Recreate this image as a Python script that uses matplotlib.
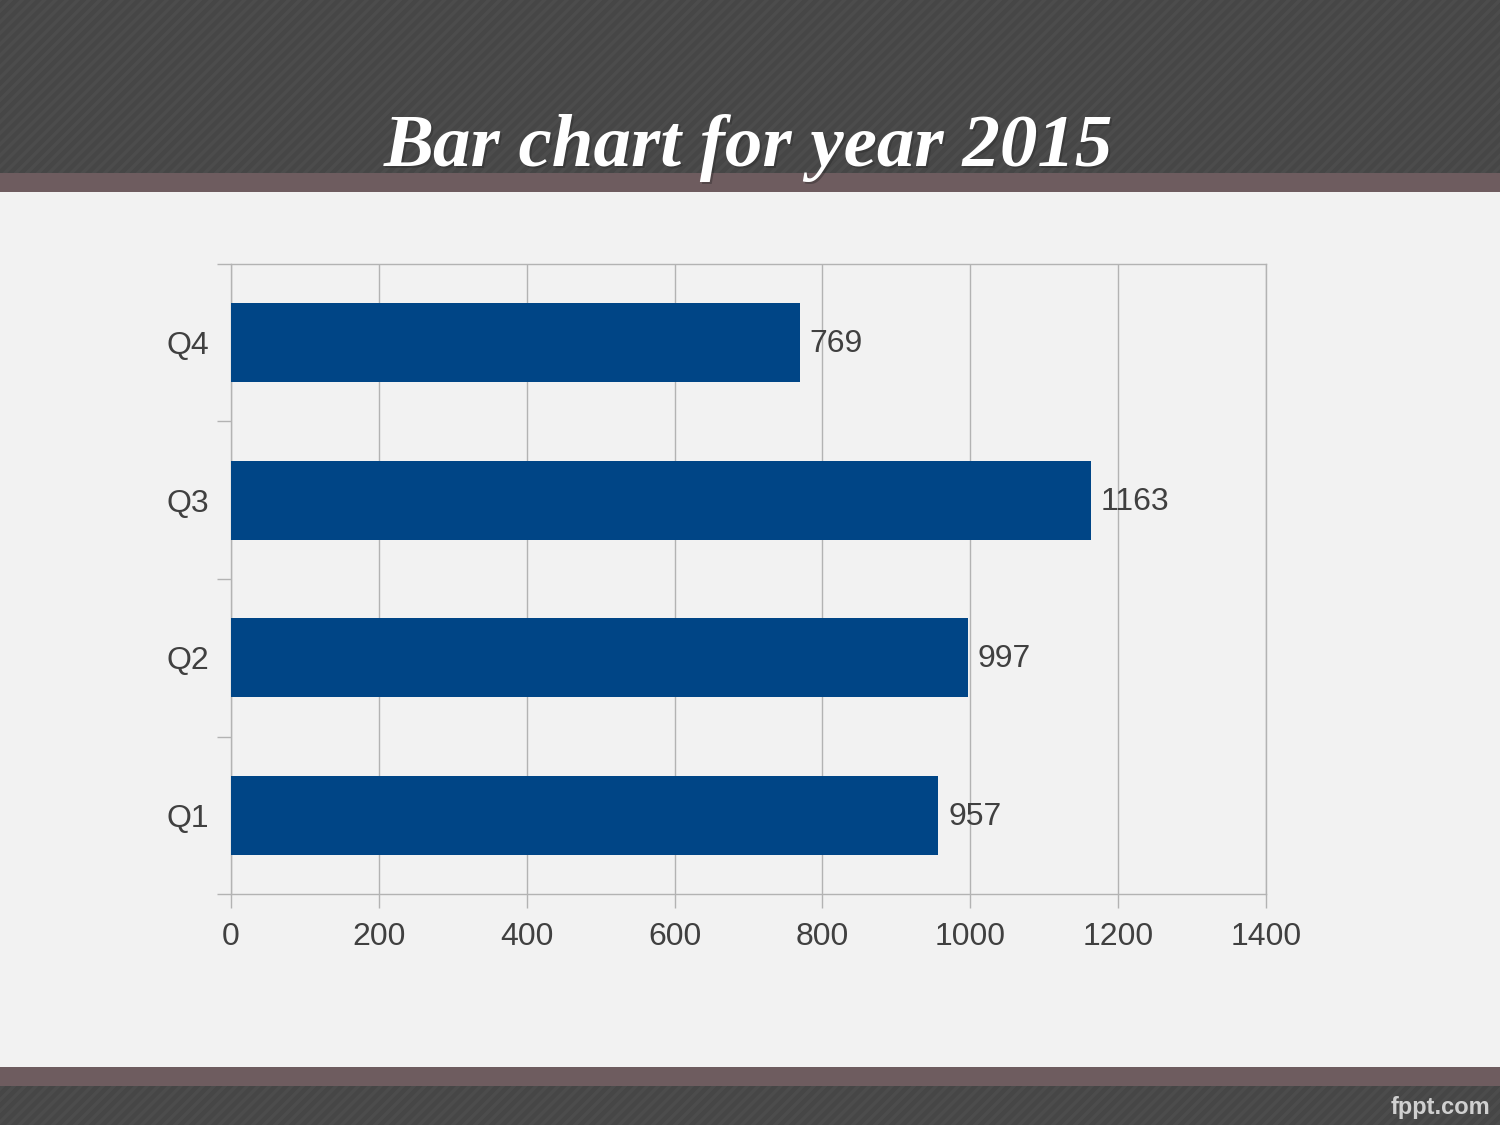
import matplotlib.pyplot as plt
from matplotlib.patches import Rectangle

quarters = ["Q1", "Q2", "Q3", "Q4"]
sales = [957, 997, 1163, 769]
xticks = [0, 200, 400, 600, 800, 1000, 1200, 1400]

plt.rcParams['font.family'] = ['Liberation Sans', 'DejaVu Sans']
plt.rcParams['hatch.linewidth'] = 2.5

fig = plt.figure(figsize=(15, 11.25), dpi=100)
fig.patch.set_facecolor('#f2f2f2')

# header / footer bands
bg = fig.add_axes([0, 0, 1, 1], zorder=0)
bg.set_xlim(0, 1500)
bg.set_ylim(1125, 0)
bg.axis('off')
bg.add_patch(Rectangle((0, 0), 1500, 173, facecolor='#464646', edgecolor='#4c4c4c',
                       hatch='///', linewidth=0))
bg.add_patch(Rectangle((0, 173), 1500, 19, facecolor='#6e5c5f', linewidth=0))
bg.add_patch(Rectangle((0, 1067), 1500, 19, facecolor='#6e5c5f', linewidth=0))
bg.add_patch(Rectangle((0, 1086), 1500, 39, facecolor='#464646', edgecolor='#4c4c4c',
                       hatch='///', linewidth=0))

# title with a soft shadow
bg.text(750, 168, "Bar chart for year 2015", ha='center', va='baseline',
        family='Liberation Serif', weight='bold', style='italic', fontsize=54,
        color='#222222', alpha=0.35)
bg.text(748, 166, "Bar chart for year 2015", ha='center', va='baseline',
        family='Liberation Serif', weight='bold', style='italic', fontsize=54,
        color='white')
bg.text(1490, 1114, "fppt.com", ha='right', va='baseline', fontsize=17,
        weight='bold', color='#d0d0d0')

ax = fig.add_axes([231/1500, 1 - 894/1125, (1266-231)/1500, (894-264)/1125], zorder=1)
ax.set_facecolor('none')
ypos = range(len(quarters))
ax.barh(ypos, sales, height=0.5, color='#004586', zorder=3)
for y, v in zip(ypos, sales):
    ax.text(v + 13, y - 0.01, str(v), va='center', ha='left', fontsize=23, color='#404040')

ax.set_xlim(0, 1400)
ax.set_ylim(-0.5, 3.5)
ax.set_xticks(xticks)
ax.set_xticklabels([str(t) for t in xticks], fontsize=23, color='#404040')
ax.set_yticks(list(ypos))
ax.set_yticklabels(quarters, fontsize=23, color='#404040')
ax.tick_params(axis='y', length=0, pad=16)
ax.tick_params(axis='x', length=10, color='#b3b3b3', width=1, pad=10)
ax.set_yticks([-0.5, 0.5, 1.5, 2.5, 3.5], minor=True)
ax.tick_params(axis='y', which='minor', length=10, color='#b3b3b3', width=1)
ax.grid(axis='x', color='#b3b3b3', linewidth=1, zorder=0)
for s in ax.spines.values():
    s.set_color('#b3b3b3')
    s.set_linewidth(1)

fig.savefig('out.png', dpi=100, facecolor=fig.get_facecolor())
